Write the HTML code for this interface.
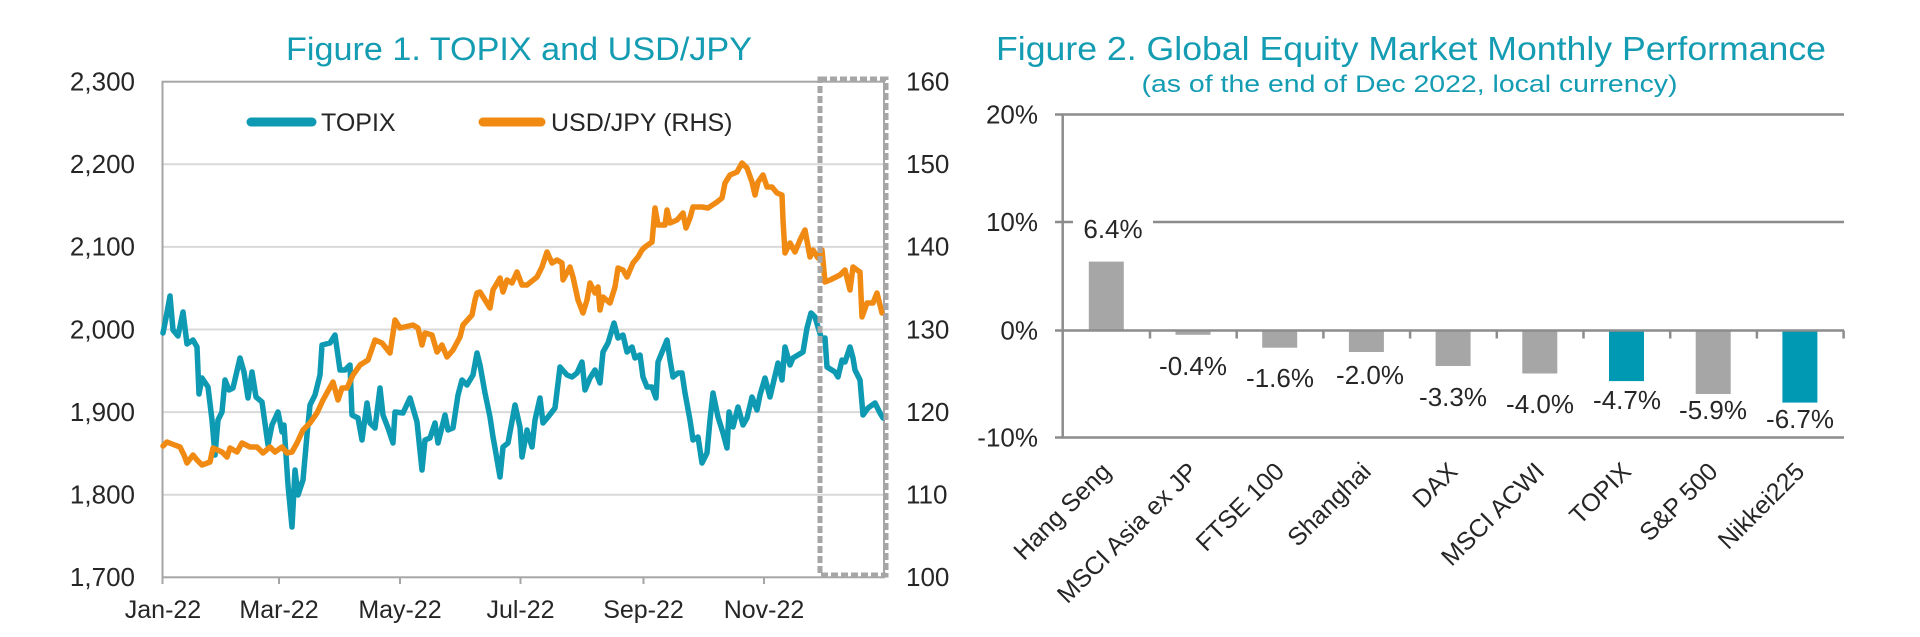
<!DOCTYPE html>
<html>
<head>
<meta charset="utf-8">
<style>
  html, body { margin:0; padding:0; background:#ffffff; }
  svg { display:block; }
  text { font-family: "Liberation Sans", sans-serif; }
</style>
</head>
<body>
<svg width="1920" height="637" viewBox="0 0 1920 637" xmlns="http://www.w3.org/2000/svg">
  <rect x="0" y="0" width="1920" height="637" fill="#ffffff"/>

  <!-- ================= FIGURE 1 ================= -->
  <text x="286" y="60" font-size="32" fill="#149cb3" textLength="466" lengthAdjust="spacingAndGlyphs">Figure 1. TOPIX and USD/JPY</text>

  <!-- gridlines -->
  <g stroke="#d9d9d9" stroke-width="2">
    <line x1="163" y1="164.3" x2="884" y2="164.3"/>
    <line x1="163" y1="246.9" x2="884" y2="246.9"/>
    <line x1="163" y1="329.5" x2="884" y2="329.5"/>
    <line x1="163" y1="412.1" x2="884" y2="412.1"/>
    <line x1="163" y1="494.7" x2="884" y2="494.7"/>
  </g>
  <!-- plot border -->
  <rect x="162.5" y="81.7" width="721.5" height="495.6" fill="none" stroke="#a6a6a6" stroke-width="2"/>
  <!-- x ticks -->
  <g stroke="#a6a6a6" stroke-width="2">
    <line x1="162.5" y1="577" x2="162.5" y2="584"/>
    <line x1="279" y1="577" x2="279" y2="584"/>
    <line x1="400" y1="577" x2="400" y2="584"/>
    <line x1="520.5" y1="577" x2="520.5" y2="584"/>
    <line x1="643.5" y1="577" x2="643.5" y2="584"/>
    <line x1="764" y1="577" x2="764" y2="584"/>
  </g>

  <!-- left axis labels -->
  <g font-size="26" fill="#262626" text-anchor="end">
    <text x="135" y="90.5">2,300</text>
    <text x="135" y="173.1">2,200</text>
    <text x="135" y="255.7">2,100</text>
    <text x="135" y="338.3">2,000</text>
    <text x="135" y="420.9">1,900</text>
    <text x="135" y="503.5">1,800</text>
    <text x="135" y="586.1">1,700</text>
  </g>
  <!-- right axis labels -->
  <g font-size="26" fill="#262626" text-anchor="start">
    <text x="906" y="90.5">160</text>
    <text x="906" y="173.1">150</text>
    <text x="906" y="255.7">140</text>
    <text x="906" y="338.3">130</text>
    <text x="906" y="420.9">120</text>
    <text x="906" y="503.5">110</text>
    <text x="906" y="586.1">100</text>
  </g>
  <!-- x axis labels -->
  <g font-size="25" fill="#262626" text-anchor="middle">
    <text x="163" y="618">Jan-22</text>
    <text x="279" y="618">Mar-22</text>
    <text x="400" y="618">May-22</text>
    <text x="520.5" y="618">Jul-22</text>
    <text x="643.5" y="618">Sep-22</text>
    <text x="764" y="618">Nov-22</text>
  </g>

  <!-- legend -->
  <line x1="251" y1="122" x2="312" y2="122" stroke="#0e9ab2" stroke-width="9" stroke-linecap="round"/>
  <text x="321" y="131" font-size="25" fill="#262626">TOPIX</text>
  <line x1="483" y1="122" x2="541" y2="122" stroke="#f08a12" stroke-width="9" stroke-linecap="round"/>
  <text x="551" y="131" font-size="25" fill="#262626">USD/JPY (RHS)</text>

  <!-- TOPIX series -->
  <polyline fill="none" stroke="#0e9ab2" stroke-width="5.5" stroke-linejoin="round" stroke-linecap="round" points="
163,333 166,318 170,296 173,330 178,336 183,312 187,344 193,340 197,347 199,394 202,378 208,387 212,420 215,455 218,420 222,412 225,380 229,390 233,388 240,358 244,372 248,398 252,372 256,397 262,402 268,445 272,425 278,412 282,432 284,425 288,485 292,527 295,470 298,495 303,480 307,435 310,405 315,395 320,375 322,345 330,343 335,335 340,370 345,370 350,365 352,415 358,418 362,440 367,403 370,423 375,428 380,388 383,415 388,428 393,443 395,412 403,413 410,398 417,422 422,470 425,440 430,438 435,423 438,443 445,415 448,430 453,428 458,395 462,380 467,385 473,375 477,353 480,365 485,393 490,417 493,437 495,448 500,477 503,447 508,443 515,405 520,427 522,457 527,430 532,447 535,420 540,398 543,423 548,417 555,408 560,367 567,375 572,377 577,373 582,362 585,390 590,378 595,370 600,383 603,352 608,343 614,323 618,338 623,335 627,352 632,347 635,358 640,355 643,377 647,387 652,387 656,398 658,362 667,340 670,360 673,377 678,373 682,373 685,393 690,420 693,440 698,437 702,463 707,453 710,420 713,393 718,417 723,433 727,448 729,412 733,427 738,407 743,425 747,418 752,397 757,410 760,395 765,378 770,397 778,363 782,380 785,347 790,365 793,358 803,352 807,328 811,313 815,317 818,327 822,340 825,338 827,367 835,372 838,377 842,360 845,362 850,347 853,358 855,370 860,380 863,415 868,408 875,403 880,413 883,418"/>

  <!-- USD/JPY series -->
  <polyline fill="none" stroke="#f08a12" stroke-width="5.5" stroke-linejoin="round" stroke-linecap="round" points="
163,446 167,442 172,444 180,447 184,455 187,463 193,455 197,460 202,465 210,462 213,448 222,452 227,457 230,448 237,452 242,443 250,447 257,447 263,453 270,447 275,452 282,447 287,453 292,452 297,443 303,430 310,423 317,413 323,400 333,382 338,400 342,388 347,388 353,375 360,365 368,360 375,340 382,343 390,353 395,320 400,328 413,325 418,328 422,345 425,333 432,335 437,352 442,345 447,357 453,350 460,337 463,325 472,315 475,300 477,293 480,292 490,308 493,290 500,278 503,292 507,280 512,283 517,272 522,285 527,285 537,277 542,267 547,252 552,263 557,260 562,263 563,280 570,267 573,277 578,300 583,313 587,300 590,283 595,293 598,287 600,310 603,297 610,303 615,287 618,268 623,270 627,277 633,263 638,257 642,250 645,247 652,242 655,208 658,225 665,225 667,210 670,223 677,220 683,213 686,228 690,218 693,207 702,207 708,208 717,202 722,198 725,183 730,175 737,172 742,163 747,168 752,182 755,195 758,182 763,175 767,187 772,187 777,193 782,195 783,220 785,253 790,243 795,252 800,240 805,230 810,257 813,250 818,258 822,250 825,282 830,280 840,275 845,270 850,290 853,267 857,270 860,272 862,317 867,303 873,303 877,293 882,313"/>

  <!-- dashed highlight box -->
  <rect x="820" y="79" width="66" height="496" fill="none" stroke="#a6a6a6" stroke-width="5" stroke-dasharray="7 3"/>

  <!-- ================= FIGURE 2 ================= -->
  <text x="996" y="60" font-size="33" fill="#149cb3" textLength="830" lengthAdjust="spacingAndGlyphs">Figure 2. Global Equity Market Monthly Performance</text>
  <text x="1141.5" y="92" font-size="24" fill="#149cb3" textLength="536" lengthAdjust="spacingAndGlyphs">(as of the end of Dec 2022, local currency)</text>

  <!-- gridlines -->
  <g stroke="#8c8c8c" stroke-width="2.5">
    <line x1="1055" y1="114.5" x2="1844" y2="114.5"/>
    <line x1="1055" y1="222" x2="1844" y2="222"/>
    <line x1="1055" y1="437.5" x2="1844" y2="437.5"/>
    <line x1="1055" y1="330.5" x2="1063" y2="330.5"/>
  </g>

  <!-- bars -->
  <g>
    <rect x="1088.8" y="261.6" width="35" height="68.9" fill="#a6a6a6"/>
    <rect x="1175.5" y="330.5" width="35" height="4.3" fill="#a6a6a6"/>
    <rect x="1262.2" y="330.5" width="35" height="17.2" fill="#a6a6a6"/>
    <rect x="1348.9" y="330.5" width="35" height="21.5" fill="#a6a6a6"/>
    <rect x="1435.6" y="330.5" width="35" height="35.5" fill="#a6a6a6"/>
    <rect x="1522.3" y="330.5" width="35" height="43" fill="#a6a6a6"/>
    <rect x="1609" y="330.5" width="35" height="50.6" fill="#0099b3"/>
    <rect x="1695.7" y="330.5" width="35" height="63.5" fill="#a6a6a6"/>
    <rect x="1782.4" y="330.5" width="35" height="72.1" fill="#0099b3"/>
  </g>

  <!-- zero axis + y axis + x ticks -->
  <g stroke="#8c8c8c" stroke-width="2.5">
    <line x1="1063" y1="330.5" x2="1844" y2="330.5"/>
    <line x1="1062.7" y1="114.5" x2="1062.7" y2="437.5"/>
    <line x1="1150" y1="330.5" x2="1150" y2="338.5"/>
    <line x1="1236.7" y1="330.5" x2="1236.7" y2="338.5"/>
    <line x1="1323.4" y1="330.5" x2="1323.4" y2="338.5"/>
    <line x1="1410.1" y1="330.5" x2="1410.1" y2="338.5"/>
    <line x1="1496.8" y1="330.5" x2="1496.8" y2="338.5"/>
    <line x1="1583.5" y1="330.5" x2="1583.5" y2="338.5"/>
    <line x1="1670.2" y1="330.5" x2="1670.2" y2="338.5"/>
    <line x1="1756.9" y1="330.5" x2="1756.9" y2="338.5"/>
    <line x1="1843.6" y1="330.5" x2="1843.6" y2="338.5"/>
  </g>

  <!-- y labels -->
  <g font-size="26" fill="#262626" text-anchor="end">
    <text x="1038" y="123.5">20%</text>
    <text x="1038" y="231">10%</text>
    <text x="1038" y="339.5">0%</text>
    <text x="1038" y="446.5">-10%</text>
  </g>

  <!-- value labels -->
  <rect x="1073" y="210" width="80" height="28" fill="#ffffff"/>
  <g font-size="26" fill="#262626" text-anchor="middle">
    <text x="1113" y="238">6.4%</text>
    <text x="1193" y="375">-0.4%</text>
    <text x="1280" y="387">-1.6%</text>
    <text x="1370" y="384">-2.0%</text>
    <text x="1453" y="406">-3.3%</text>
    <text x="1540" y="413">-4.0%</text>
    <text x="1627" y="409">-4.7%</text>
    <text x="1713" y="419">-5.9%</text>
    <text x="1800" y="428">-6.7%</text>
  </g>

  <!-- category labels -->
  <g font-size="25" fill="#262626" text-anchor="end">
    <text transform="translate(1112.3,473) rotate(-45)">Hang Seng</text>
    <text transform="translate(1199,473) rotate(-45)">MSCI Asia ex JP</text>
    <text transform="translate(1285.7,473) rotate(-45)">FTSE 100</text>
    <text transform="translate(1372.4,473) rotate(-45)">Shanghai</text>
    <text transform="translate(1459.1,473) rotate(-45)">DAX</text>
    <text transform="translate(1545.8,473) rotate(-45)">MSCI ACWI</text>
    <text transform="translate(1632.5,473) rotate(-45)">TOPIX</text>
    <text transform="translate(1719.2,473) rotate(-45)">S&amp;P 500</text>
    <text transform="translate(1805.9,473) rotate(-45)">Nikkei225</text>
  </g>
</svg>
</body>
</html>
